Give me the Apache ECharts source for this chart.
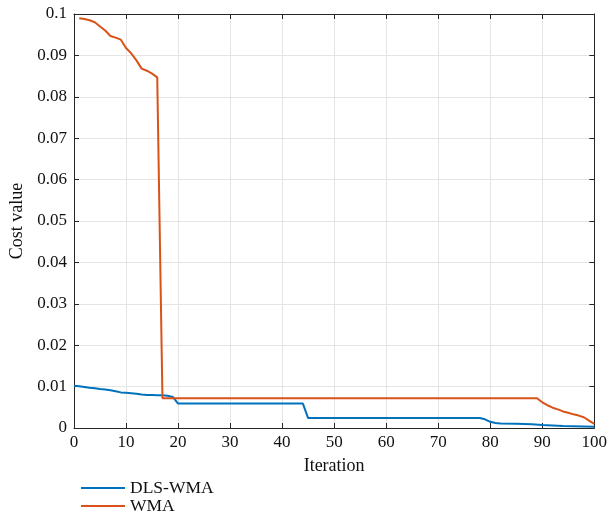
<!DOCTYPE html>
<html>
<head>
<meta charset="utf-8">
<script src="https://cdn.jsdelivr.net/npm/echarts@6/dist/echarts.min.js"></script>
<style>
  html, body { margin: 0; padding: 0; background: #fff; }
  #chart { width: 610px; height: 513px; }
</style>
</head>
<body>
<div id="chart"></div>
<script>
// Cost value per iteration for the two optimisers
const dlsIter = [0, 1, 2, 3, 4, 5, 6, 7, 8, 9, 10, 11, 12, 13, 14, 15, 16, 17, 18, 19, 20, 44, 45, 78, 79, 80, 81, 82, 85, 88, 90, 94, 100];
const dlsCost = [0.0102, 0.0101, 0.0099, 0.0097, 0.0096, 0.0094, 0.0093, 0.0091, 0.0089, 0.0086, 0.0085, 0.0084, 0.0083, 0.0081, 0.0080, 0.0080, 0.0079, 0.0079, 0.0078, 0.0075, 0.0059, 0.0059, 0.0024, 0.0024, 0.0021, 0.0015, 0.0012, 0.0011, 0.0010, 0.0009, 0.0007, 0.0005, 0.0003];

const wmaIter = [1, 2, 3, 4, 5, 6, 7, 8, 9, 10, 11, 12, 13, 14, 15, 16, 17, 89, 90, 91, 92, 93, 94, 95, 96, 97, 98, 99, 100];
const wmaCost = [0.0990, 0.0988, 0.0985, 0.0980, 0.0970, 0.0960, 0.0947, 0.0943, 0.0938, 0.0918, 0.0905, 0.0888, 0.0868, 0.0863, 0.0856, 0.0847, 0.0072, 0.0072, 0.0062, 0.0055, 0.0049, 0.0045, 0.0040, 0.0037, 0.0033, 0.0030, 0.0026, 0.0018, 0.0010];

const seriesNames = ['DLS-WMA', 'WMA'];
const seriesColors = ['#0072BD', '#D95319'];

const pair = (xs, ys) => xs.map((x, i) => [x, ys[i]]);

const FONT = 'Liberation Serif';
const AXIS_COLOR = '#262626';

// Axis used for the plot frame: line plus inward ticks
const frameAxis = (extra) => Object.assign({
  type: 'value',
  min: 0,
  axisLine: { show: true, onZero: false, lineStyle: { color: AXIS_COLOR, width: 1 } },
  axisTick: { show: true, inside: true, length: 5, lineStyle: { color: AXIS_COLOR } },
  axisLabel: { show: false },
  splitLine: { show: false }
}, extra);

// One legend entry per block, stacked below the plot
const legendEntry = (name, top) => ({
  orient: 'vertical',
  left: 76,
  top: top,
  itemWidth: 44,
  itemHeight: 14,
  icon: 'path://M0,6 L44,6 L44,8 L0,8 Z',
  textStyle: { fontFamily: FONT, fontSize: 17.5, color: '#111' },
  data: [name]
});

const chart = echarts.init(document.getElementById('chart'), null, { renderer: 'canvas' });
chart.setOption({
  animation: false,
  backgroundColor: '#fff',
  grid: { left: 74, right: 12, top: 14, bottom: 85, containLabel: false },
  legend: [legendEntry(seriesNames[0], 474), legendEntry(seriesNames[1], 492)],
  xAxis: [
    frameAxis({
      position: 'bottom', max: 100, interval: 10,
      name: 'Iteration', nameLocation: 'middle', nameGap: 29,
      nameTextStyle: { fontFamily: FONT, fontSize: 18, color: '#111' },
      axisLabel: { show: true, margin: 6, fontFamily: FONT, fontSize: 17, color: '#111' },
      splitLine: { show: true, lineStyle: { color: '#e4e4e4', width: 1 } }
    }),
    frameAxis({ position: 'top', max: 100, interval: 10 })
  ],
  yAxis: [
    frameAxis({
      position: 'left', max: 0.1, interval: 0.01,
      name: 'Cost value', nameLocation: 'middle', nameGap: 47,
      nameTextStyle: { fontFamily: FONT, fontSize: 18, color: '#111' },
      axisLabel: {
        show: true, margin: 7, fontFamily: FONT, fontSize: 17, color: '#111',
        formatter: (v) => String(Math.round(v * 100) / 100)
      },
      splitLine: { show: true, lineStyle: { color: '#e4e4e4', width: 1 } }
    }),
    frameAxis({ position: 'right', max: 0.1, interval: 0.01 })
  ],
  series: [
    {
      name: seriesNames[0], type: 'line', xAxisIndex: 0, yAxisIndex: 0,
      data: pair(dlsIter, dlsCost), symbol: 'none',
      lineStyle: { color: seriesColors[0], width: 2 }, itemStyle: { color: seriesColors[0] }
    },
    {
      name: seriesNames[1], type: 'line', xAxisIndex: 0, yAxisIndex: 0,
      data: pair(wmaIter, wmaCost), symbol: 'none',
      lineStyle: { color: seriesColors[1], width: 2 }, itemStyle: { color: seriesColors[1] }
    }
  ]
});
</script>
</body>
</html>
